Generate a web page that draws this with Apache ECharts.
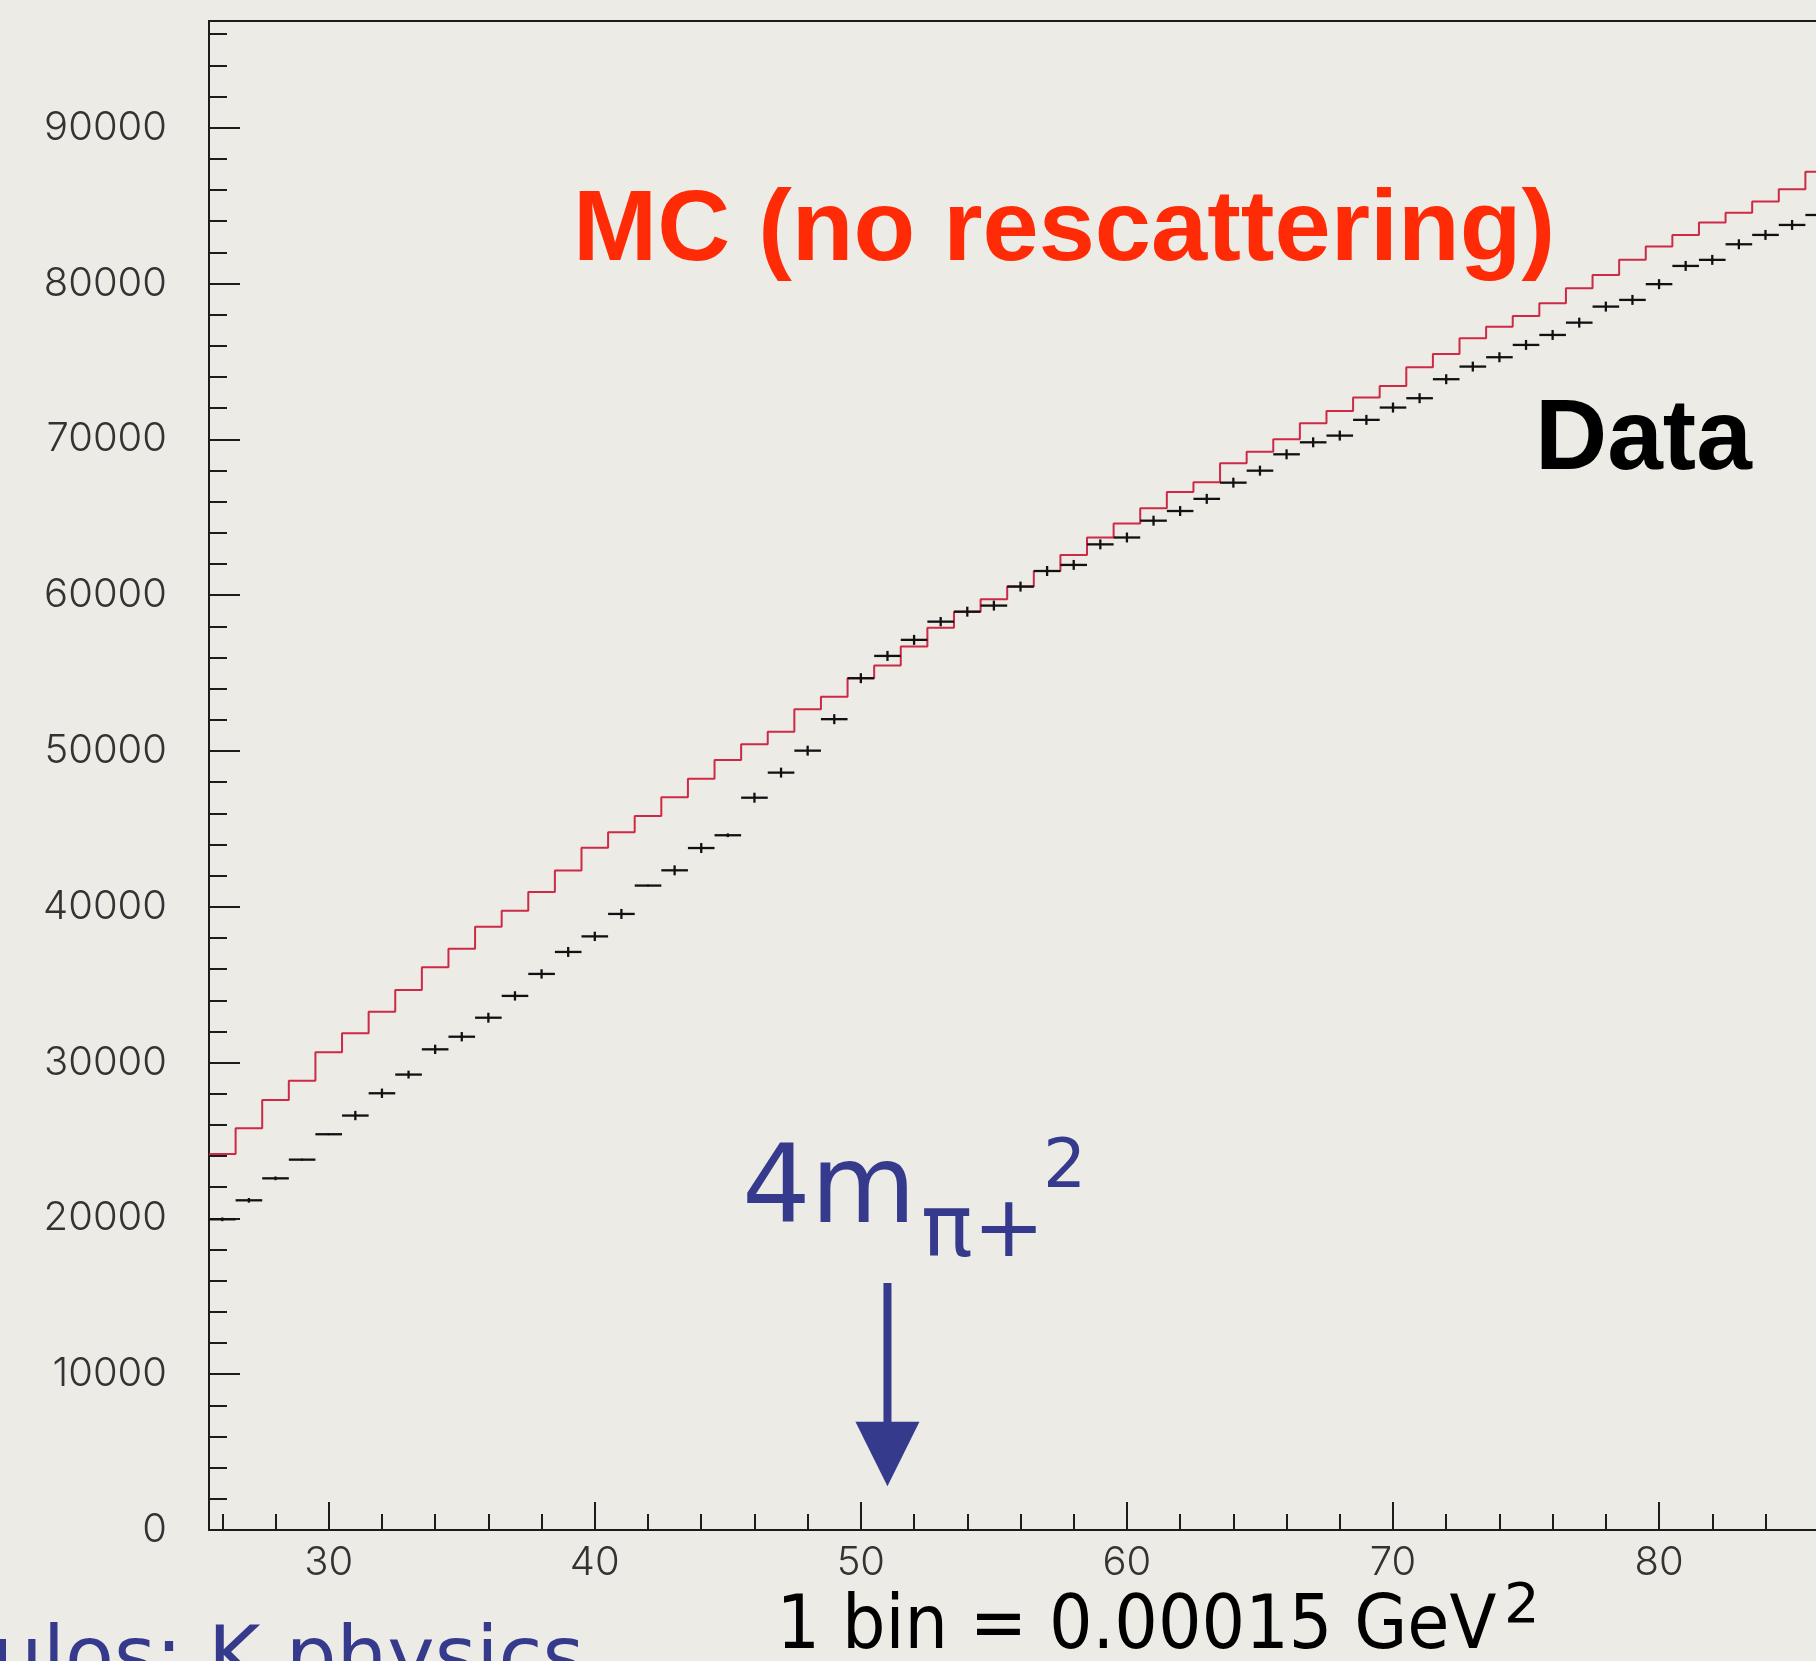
<!DOCTYPE html>
<html><head><meta charset="utf-8">
<script src="https://cdn.jsdelivr.net/npm/echarts@6/dist/echarts.min.js"></script>
<style>html,body{margin:0;padding:0;background:#ecebe5;overflow:hidden}#c{width:1816px;height:1661px}</style>
</head><body><div id="c"></div>
<script>
// bin numbers (1 bin = 0.00015 GeV^2), bins centred on integers
const bins = [26,27,28,29,30,31,32,33,34,35,36,37,38,39,40,41,42,43,44,45,46,47,48,49,50,51,52,53,54,55,56,57,58,59,60,61,62,63,64,65,66,67,68,69,70,71,72,73,74,75,76,77,78,79,80,81,82,83,84,85,86];
// MC (no rescattering) histogram contents
const mcCounts = [24130,25780,27600,28840,30660,31880,33270,34660,36120,37310,38720,39750,40950,42320,43790,44780,45830,47030,48220,49420,50430,51240,52680,53480,54670,55480,56700,57910,58940,59740,60550,61550,62580,63700,64600,65580,66620,67250,68470,69210,70010,71030,71820,72680,73430,74630,75480,76490,77230,77920,78740,79700,80550,81520,82370,83120,83910,84550,85260,86050,87180];
// Data histogram contents
const dataCounts = [19940,21160,22570,23770,25400,26600,28030,29230,30850,31660,32880,34280,35690,37100,38100,39540,41360,42340,43770,44590,47000,48610,50020,52040,54670,56100,57130,58300,58940,59330,60550,61550,61940,63260,63700,64780,65400,66180,67220,67990,69040,69810,70240,71250,72040,72640,73860,74670,75270,76060,76700,77490,78520,78950,79960,81130,81520,82520,83120,83760,84400];
// Data error (half length of bar)
const dataErrors = [120,150,120,60,60,300,300,250,300,300,320,300,300,320,300,320,60,320,320,120,320,320,320,320,320,320,320,300,320,320,320,320,320,320,320,320,320,320,320,320,320,320,320,320,320,320,320,320,320,320,320,320,320,320,320,320,320,320,320,320,320];
const xTickLabels = [30,40,50,60,70,80];
const xMinorTicks = [26,28,32,34,36,38,42,44,46,48,52,54,56,58,62,64,66,68,72,74,76,78,82,84,86];
const yTickLabels = [0,10000,20000,30000,40000,50000,60000,70000,80000,90000];
const yMinorTicks = [2000,4000,6000,8000,12000,14000,16000,18000,22000,24000,26000,28000,32000,34000,36000,38000,42000,44000,46000,48000,52000,54000,56000,58000,62000,64000,66000,68000,72000,74000,76000,78000,82000,84000,86000,88000,92000,94000,96000];
const thresholdBin = 51;

const AX = '#1c1c1c';
const labelFont = {fontFamily:'Inter', fontWeight:300, fontSize:40, color:'#333', formatter:function(v){return String(v);}};
const mcStep = bins.map((b,i)=>[b-0.5, mcCounts[i]]);
mcStep.push([bins[bins.length-1]+0.5, mcCounts[mcCounts.length-1]]);
const dataPts = bins.map((b,i)=>[b, dataCounts[i], dataErrors[i]]);

const chart = echarts.init(document.getElementById('c'), null, {renderer:'canvas'});
const X0 = 25.5, X1 = 86.5, Y0 = 0, Y1 = 96850;
chart.setOption({
  backgroundColor:'#ecebe5',
  animation:false,
  grid:{left:209, top:21, width:1623, height:1509, containLabel:false, outerBoundsMode:'none', show:true, borderColor:AX, borderWidth:2, backgroundColor:'transparent'},
  xAxis:[
    {type:'value', min:X0, max:X1, position:'bottom',
     axisLine:{show:true, lineStyle:{color:AX, width:2}},
     axisTick:{show:true, inside:true, length:28, customValues:xTickLabels, lineStyle:{color:AX, width:2}},
     axisLabel:Object.assign({customValues:xTickLabels, margin:13}, labelFont),
     splitLine:{show:false}},
    {type:'value', min:X0, max:X1, position:'bottom',
     axisLine:{show:false},
     axisTick:{show:true, inside:true, length:16, customValues:xMinorTicks, lineStyle:{color:AX, width:2}},
     axisLabel:{show:false}, splitLine:{show:false}}
  ],
  yAxis:[
    {type:'value', min:Y0, max:Y1, position:'left',
     axisLine:{show:true, lineStyle:{color:AX, width:2}},
     axisTick:{show:true, inside:true, length:31, customValues:yTickLabels, lineStyle:{color:AX, width:2}},
     axisLabel:Object.assign({customValues:yTickLabels, margin:42}, labelFont),
     splitLine:{show:false}},
    {type:'value', min:Y0, max:Y1, position:'left',
     axisLine:{show:false},
     axisTick:{show:true, inside:true, length:18, customValues:yMinorTicks, lineStyle:{color:AX, width:2}},
     axisLabel:{show:false}, splitLine:{show:false}}
  ],
  series:[
    {name:'MC', type:'line', step:'end', data:mcStep, symbol:'none', xAxisIndex:0, yAxisIndex:0,
     lineStyle:{color:'#cc2a46', width:2}, z:3},
    {name:'Data', type:'custom', data:dataPts, xAxisIndex:0, yAxisIndex:0, z:4,
     renderItem:function(params, api){
       const x = api.value(0), y = api.value(1), e = api.value(2);
       const l = api.coord([x-0.5, y]), r = api.coord([x+0.5, y]);
       const t = api.coord([x, y+e]), b = api.coord([x, y-e]);
       const st = {stroke:'#111', lineWidth:2.3};
       return {type:'group', children:[
         {type:'line', shape:{x1:l[0], y1:l[1], x2:r[0], y2:r[1]}, style:st},
         {type:'line', shape:{x1:t[0], y1:t[1], x2:b[0], y2:b[1]}, style:st}
       ]};
     }}
  ]
});

const ax = chart.convertToPixel({xAxisIndex:0}, thresholdBin);
const yTop = chart.convertToPixel({yAxisIndex:0}, 15850);
const yBase = chart.convertToPixel({yAxisIndex:0}, 6950);
const yTip = chart.convertToPixel({yAxisIndex:0}, 2800);
const BLUE = '#353a8c';
chart.setOption({graphic:[
  {type:'text', x:573, y:232.5, style:{text:'MC (no rescattering)', font:'bold 101px "Liberation Sans"', fill:'#ff2b06', textAlign:'left', textVerticalAlign:'middle'}},
  {type:'text', x:1535, y:441.5, style:{text:'Data', font:'bold 100px "Liberation Sans"', fill:'#000', textAlign:'left', textVerticalAlign:'middle'}},
  {type:'text', x:742, y:1194, style:{text:'4m', font:'108px "DejaVu Sans"', fill:BLUE, textAlign:'left', textVerticalAlign:'middle'}},
  {type:'text', x:921, y:1234, style:{text:'\u03c0+', font:'86px "DejaVu Sans"', fill:BLUE, textAlign:'left', textVerticalAlign:'middle'}},
  {type:'text', x:1043, y:1169, style:{text:'2', font:'68px "DejaVu Sans"', fill:BLUE, textAlign:'left', textVerticalAlign:'middle'}},
  {type:'line', shape:{x1:ax, y1:yTop, x2:ax, y2:yBase+2}, style:{stroke:BLUE, lineWidth:8}},
  {type:'polygon', shape:{points:[[ax-32,yBase],[ax+32,yBase],[ax,yTip]]}, style:{fill:BLUE}},
  {type:'text', x:776.5, y:1629, scaleX:0.914, style:{text:'1 bin = 0.00015 GeV', font:'75px "DejaVu Sans"', fill:'#000', textAlign:'left', textVerticalAlign:'middle'}},
  {type:'text', x:1504, y:1607, style:{text:'2', font:'56px "DejaVu Sans"', fill:'#000', textAlign:'left', textVerticalAlign:'middle'}},
  {type:'text', x:-8, y:1662, style:{text:'ulos: K physics', font:'80px "DejaVu Sans"', fill:BLUE, textAlign:'left', textVerticalAlign:'middle'}}
]});
</script></body></html>
